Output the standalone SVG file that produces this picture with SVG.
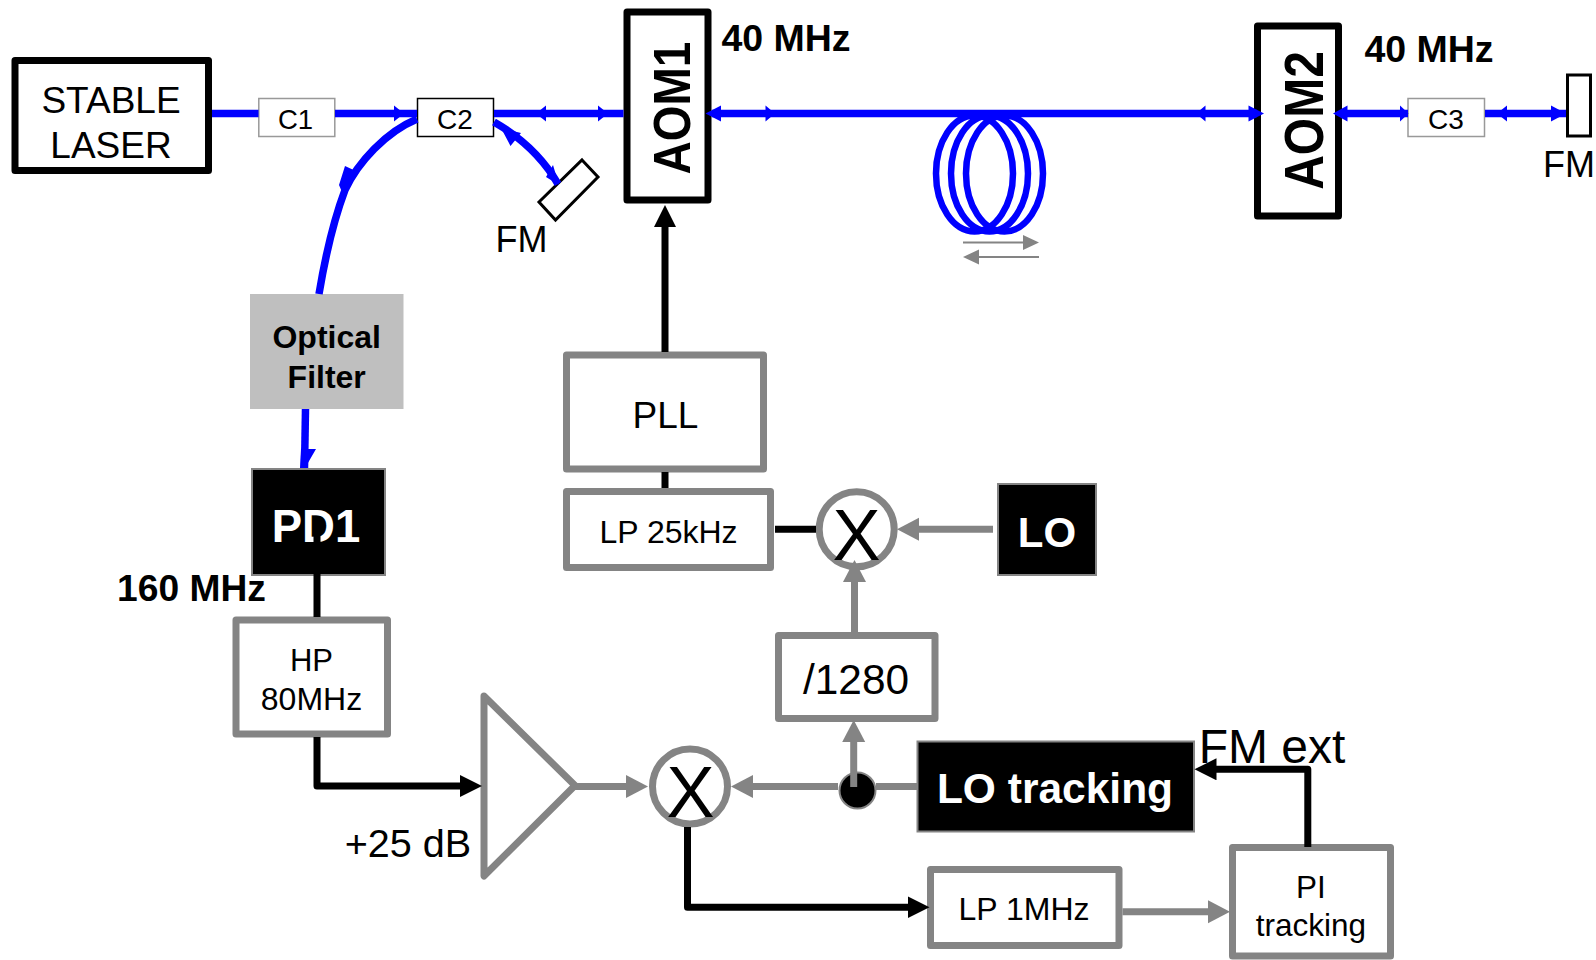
<svg xmlns="http://www.w3.org/2000/svg" width="1596" height="960" viewBox="0 0 1596 960">
<style>
text{font-family:"Liberation Sans",Arial,sans-serif;text-anchor:middle;fill:#000}
.b{font-weight:bold}.w{fill:#fff}
.box{fill:#fff;stroke:#848484;stroke-width:7;stroke-linejoin:round}
.thick{fill:#fff;stroke:#000;stroke-width:7;stroke-linejoin:round}
.solid{fill:#000;stroke:#848484;stroke-width:2}
.blue{fill:none;stroke:#0000ff;stroke-width:7.500}
.coil{fill:none;stroke:#0000ff;stroke-width:6.500}
.k{fill:none;stroke:#000;stroke-width:7;stroke-linejoin:round}
.g{fill:none;stroke:#848484;stroke-width:7}
.ga{marker-end:url(#hg)}.ka{marker-end:url(#hk)}
.bh{fill:#0000ff}
</style>
<defs>
<marker id="hg" markerUnits="userSpaceOnUse" markerWidth="24" markerHeight="24" refX="12" refY="11.500" orient="auto"><path d="M0 0L22 11.500L0 23z" fill="#848484"/></marker>
<marker id="hk" markerUnits="userSpaceOnUse" markerWidth="24" markerHeight="24" refX="12" refY="11" orient="auto"><path d="M0 0L22 11L0 22z" fill="#000"/></marker>
</defs>
<g id="stable-laser"><rect class="thick" x="15" y="60.500" width="193.500" height="110"/><text x="111" y="112.500" font-size="37">STABLE</text><text x="111" y="157.500" font-size="37">LASER</text></g>
<g id="c1"><rect x="258.800" y="98.500" width="76" height="38" fill="#fff" stroke="#999" stroke-width="1.500"/><text x="295.500" y="128.500" font-size="27.500">C1</text></g>
<g id="c2"><rect x="417.500" y="98.500" width="76" height="38" fill="#fff" stroke="#000" stroke-width="1.500"/><text x="455" y="128.500" font-size="28">C2</text></g>
<g id="c3"><rect x="1408" y="98.500" width="76.500" height="38" fill="#fff" stroke="#999" stroke-width="1.500"/><text x="1446" y="129" font-size="28">C3</text></g>
<g id="fm1"><path d="M582 160L598 177L555.500 220L539 202z" fill="#fff" stroke="#000" stroke-width="3"/><text x="521.500" y="252" font-size="36">FM</text></g>
<g id="fm2"><rect x="1567.500" y="75" width="23" height="61" fill="#fff" stroke="#000" stroke-width="3"/><text x="1569" y="177" font-size="36">FM</text></g>
<g id="aom1"><rect class="thick" x="627" y="12" width="81" height="188"/><text transform="translate(690 108) rotate(-90) scale(1 1.140)" font-size="46" class="b">AOM1</text></g>
<g id="aom2"><rect class="thick" x="1257.500" y="26" width="81" height="190"/><text transform="translate(1323 120.500) rotate(-90) scale(1 1.160)" font-size="48" class="b">AOM2</text></g>
<g id="label-40a"><text x="786" y="51" font-size="37.500" class="b">40 MHz</text></g>
<g id="label-40b"><text x="1429" y="61.500" font-size="37.500" class="b">40 MHz</text></g>
<g id="optical-filter"><rect x="250" y="294" width="153.500" height="115" fill="#bfbfbf"/><text x="326.700" y="348" font-size="32" class="b">Optical</text><text x="326.700" y="387.500" font-size="32" class="b">Filter</text></g>
<g id="pd1"><rect class="solid" x="252" y="469" width="133" height="106"/><text x="316" y="541.500" font-size="45.500" class="b w">PD1</text></g>
<g id="label-160"><text x="191.500" y="600.500" font-size="37.200" class="b">160 MHz</text></g>
<g id="hp"><rect class="box" x="236" y="620" width="151.500" height="114"/><text x="311.500" y="670.500" font-size="31">HP</text><text x="311.500" y="709.500" font-size="32">80MHz</text></g>
<g id="amp"><path d="M484 696L575 785.500L484 876z" fill="#fff" stroke="#848484" stroke-width="7" stroke-linejoin="round"/><text x="408" y="857" font-size="39.600">+25 dB</text></g>
<g id="mixer1"><circle cx="690" cy="786.500" r="37.500" fill="#fff" stroke="#848484" stroke-width="7"/><text x="690.500" y="817" font-size="72">X</text></g>
<g id="split"><circle cx="857.500" cy="790.500" r="18" class="solid"/></g>
<g id="lo-tracking"><rect class="solid" x="917.500" y="741.500" width="276.500" height="90"/><text x="1055" y="803" font-size="42.500" class="b w">LO tracking</text></g>
<g id="fm-ext"><text x="1272" y="762.500" font-size="48">FM ext</text></g>
<g id="pi-tracking"><rect class="box" x="1232.500" y="847.500" width="158" height="108.500"/><text x="1311" y="898" font-size="31.500">PI</text><text x="1311" y="936" font-size="31.500">tracking</text></g>
<g id="lp-1mhz"><rect class="box" x="930.500" y="869.500" width="188.500" height="76"/><text x="1024" y="920" font-size="32">LP 1MHz</text></g>
<g id="div-1280"><rect class="box" x="778.500" y="635.500" width="156.500" height="83"/><text x="856" y="694" font-size="42.400">/1280</text></g>
<g id="mixer2"><circle cx="856.700" cy="529.300" r="37.500" fill="#fff" stroke="#848484" stroke-width="7"/><text x="856.500" y="560" font-size="72">X</text></g>
<g id="lo"><rect class="solid" x="998" y="484" width="98" height="91"/><text x="1047" y="546.500" font-size="42" class="b w">LO</text></g>
<g id="lp-25khz"><rect class="box" x="566.500" y="491.500" width="204" height="76"/><text x="668.500" y="542.500" font-size="32">LP 25kHz</text></g>
<g id="pll"><rect class="box" x="566.500" y="355" width="197" height="114"/><text x="665.500" y="428" font-size="37">PLL</text></g>
<g id="connectors">
<path class="blue" d="M212 113.500H258.500M335 113.500H417M494 113.500H623.500M712 113.500H1257M1342 113.500H1408M1485 113.500H1566"/>
<path class="blue" d="M417 119C386 132 358 162 345 190C333 222 325 258 319 294"/>
<path class="blue" d="M494 122C522 138 544 160 558 184"/>
<path class="blue" d="M305.500 409L304.500 468"/>
<path class="bh" d="M394 105.500L404 113.500L394 121.500zM536 113.500L546 105.500V121.500zM598 105.500L608 113.500L598 121.500zM705.500 113.500L721 105.500V121.500zM765.500 105.500L775 113.500L765.500 121.500zM1196 113.500L1205.500 105.500V121.500zM1248.500 105.500L1264 113.500L1248.500 121.500zM1333 113.500L1347.500 105.500V121.500zM1400 105.500L1408.500 113.500L1400 121.500zM1497 113.500L1507 105.500V121.500zM1551 105.500L1566 113.500L1551 121.500z"/>
<path class="bh" d="M345 166L358 172L342 192L339 185zM501 128L521 133L510.500 146zM559 185L546 177L553 165zM301 449H316L305 468H300z"/>
<ellipse class="coil" cx="974.500" cy="173.500" rx="38.500" ry="58"/>
<ellipse class="coil" cx="989.500" cy="173.500" rx="38.500" ry="58"/>
<ellipse class="coil" cx="1004.500" cy="173.500" rx="38.500" ry="58"/>
<path d="M963 242.500H1025M977 257H1039" fill="none" stroke="#848484" stroke-width="2"/>
<path d="M1023 235L1039 242.500L1023 250zM979 249.500L963 257L979 264.500z" fill="#848484"/>
<path class="k ka" d="M665 352V215"/>
<path class="k" d="M665 472V488M775 529.300H816M317 536V617"/>
<path class="k ka" d="M317 737V786H472"/>
<path class="g ga" d="M575 786.500H638"/>
<path class="g ga" d="M838 786.500H741"/>
<path class="g" d="M876 786.500H917"/>
<path class="g ga" d="M853.700 787V730"/>
<path class="g ga" d="M854.500 632V570"/>
<path class="g ga" d="M993 529.300H907"/>
<path class="k ka" d="M687.500 827V907.300H919.500"/>
<path class="g ga" d="M1122.500 911.700H1220"/>
<path class="k ka" d="M1307.800 847V769.300H1204.500"/>
</g>
</svg>
